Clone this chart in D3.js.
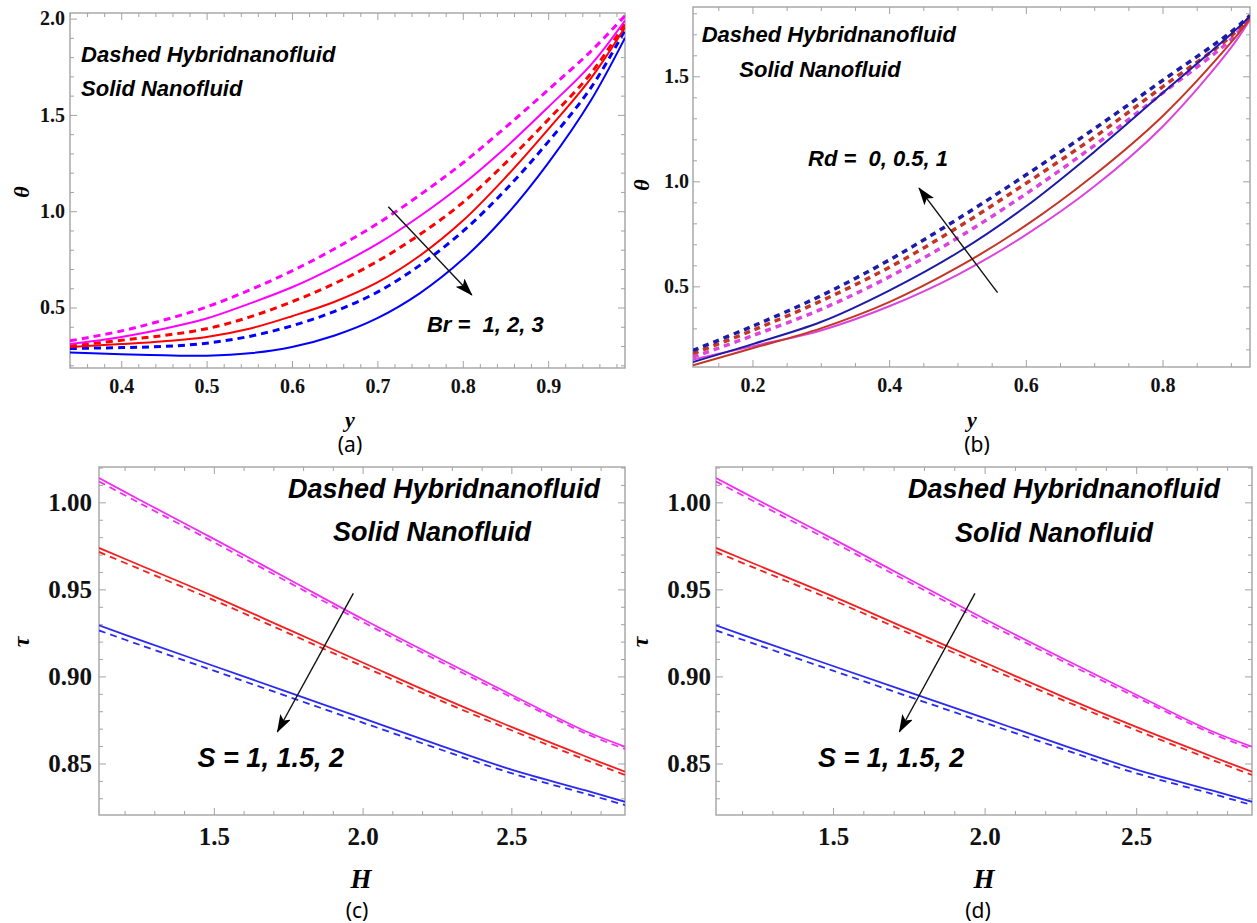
<!DOCTYPE html>
<html>
<head>
<meta charset="utf-8">
<script src="https://cdn.jsdelivr.net/npm/d3@7"></script>
<style>
  body { margin: 0; background: #fff; }
  .note { font-family: "Liberation Sans", Arial, sans-serif; font-weight: bold; font-style: italic; white-space: pre; }
  .axis-title { font-family: "Liberation Serif", "Times New Roman", serif; font-weight: bold; font-style: italic; }
  .panel-tag { font-family: "Noto Sans", "Liberation Sans", sans-serif; }
</style>
</head>
<body>
<svg width="1257" height="923"></svg>
<script>
const svg = d3.select('svg');

// (a) theta against y, Br = 1, 2, 3
const aY = [0.34, 0.4, 0.45, 0.5, 0.55, 0.6, 0.65, 0.7, 0.75, 0.8, 0.85, 0.9, 0.95, 0.99];
const aMagentaDashed = [0.327, 0.378, 0.435, 0.503, 0.59, 0.69, 0.805, 0.935, 1.085, 1.25, 1.435, 1.63, 1.83, 2.015];
const aMagentaSolid  = [0.31, 0.347, 0.39, 0.443, 0.52, 0.605, 0.71, 0.83, 0.975, 1.14, 1.33, 1.54, 1.76, 1.99];
const aRedDashed     = [0.30, 0.33, 0.355, 0.39, 0.45, 0.53, 0.625, 0.74, 0.88, 1.045, 1.25, 1.475, 1.715, 1.975];
const aRedSolid      = [0.295, 0.31, 0.325, 0.347, 0.39, 0.455, 0.53, 0.63, 0.77, 0.95, 1.175, 1.425, 1.69, 1.955];
const aBlueDashed    = [0.287, 0.292, 0.298, 0.315, 0.35, 0.405, 0.48, 0.58, 0.72, 0.895, 1.11, 1.36, 1.64, 1.94];
const aBlueSolid     = [0.266, 0.258, 0.252, 0.25, 0.262, 0.295, 0.355, 0.445, 0.575, 0.75, 0.975, 1.25, 1.575, 1.90];
const aXTicks = [0.4, 0.5, 0.6, 0.7, 0.8, 0.9];
const aYTicks = [0.5, 1.0, 1.5, 2.0];

// (b) theta against y, Rd = 0, 0.5, 1
const bY = [0.113, 0.2, 0.3, 0.4, 0.5, 0.6, 0.7, 0.8, 0.9, 0.928];
const bBlueDashed    = [0.195, 0.31, 0.455, 0.625, 0.82, 1.03, 1.25, 1.48, 1.71, 1.79];
const bRedDashed     = [0.18, 0.29, 0.43, 0.59, 0.78, 0.99, 1.21, 1.45, 1.69, 1.785];
const bMagentaDashed = [0.163, 0.265, 0.39, 0.545, 0.73, 0.94, 1.17, 1.42, 1.675, 1.78];
const bBlueSolid     = [0.14, 0.225, 0.33, 0.48, 0.66, 0.88, 1.14, 1.42, 1.70, 1.785];
const bRedSolid      = [0.124, 0.205, 0.30, 0.425, 0.59, 0.79, 1.03, 1.31, 1.66, 1.775];
const bMagentaSolid  = [0.151, 0.215, 0.29, 0.405, 0.555, 0.745, 0.975, 1.26, 1.635, 1.77];
const bXTicks = [0.2, 0.4, 0.6, 0.8];
const bYTicks = [0.5, 1.0, 1.5];

// (c) and (d) tau against H, S = 1, 1.5, 2
const cH = [1.114, 1.25, 1.5, 1.75, 2.0, 2.25, 2.5, 2.75, 2.882];
const cMagentaSolid  = [1.014, 1.0015, 0.979, 0.956, 0.933, 0.911, 0.8895, 0.8685, 0.8597];
const cMagentaDashed = [1.012, 0.9996, 0.9771, 0.9542, 0.9313, 0.9094, 0.8881, 0.8672, 0.8583];
const cRedSolid      = [0.9738, 0.964, 0.946, 0.927, 0.908, 0.889, 0.871, 0.854, 0.8453];
const cRedDashed     = [0.9715, 0.9617, 0.9438, 0.9249, 0.9059, 0.8870, 0.8691, 0.8521, 0.8434];
const cBlueSolid     = [0.9293, 0.921, 0.906, 0.891, 0.876, 0.861, 0.8465, 0.8345, 0.828];
const cBlueDashed    = [0.9264, 0.9182, 0.9033, 0.8884, 0.8735, 0.8587, 0.8444, 0.8326, 0.8261];
const cXTicks = [1.5, 2.0, 2.5];
const cYTicks = [0.85, 0.90, 0.95, 1.00];

const frameColor = '#a3a3a3';

const fullColors = { magenta: '#ff00ff', red: '#ff0000', blue: '#0000ff' };
const darkColors = { magenta: '#dd44dd', red: '#c43526', blue: '#1c1ca8' };
const softColors = { magenta: '#f030f0', red: '#f22020', blue: '#2a2af0' };

const tauSeries = colors => [
  { v: cMagentaDashed, c: colors.magenta, dashed: true },
  { v: cRedDashed, c: colors.red, dashed: true },
  { v: cBlueDashed, c: colors.blue, dashed: true },
  { v: cMagentaSolid, c: colors.magenta },
  { v: cRedSolid, c: colors.red },
  { v: cBlueSolid, c: colors.blue }
];

const panels = [
  {
    id: 'a', left: 70, right: 625, top: 13, bottom: 368,
    xDomain: [0.34, 0.99], yDomain: [0.186, 2.029], xs: aY,
    xTicks: aXTicks, xMinor: 0.02, yTicks: aYTicks, yMinor: 0.1,
    xFmt: d3.format('.1f'), yFmt: d3.format('.1f'),
    tickFont: 20, xPad: 11, yPad: 5,
    solidW: 2, dashW: 3, dashArray: '7,5',
    series: [
      { v: aMagentaDashed, c: fullColors.magenta, dashed: true },
      { v: aRedDashed, c: fullColors.red, dashed: true },
      { v: aBlueDashed, c: fullColors.blue, dashed: true },
      { v: aMagentaSolid, c: fullColors.magenta },
      { v: aRedSolid, c: fullColors.red },
      { v: aBlueSolid, c: fullColors.blue }
    ],
    noteFont: 22,
    notes: [
      { t: 'Dashed Hybridnanofluid', x: 0.353, y: 1.773 },
      { t: 'Solid Nanofluid', x: 0.353, y: 1.60 },
      { t: 'Br =  1, 2, 3', x: 0.758, y: 0.374 }
    ],
    arrow: { x1: 0.7128, y1: 1.0235, x2: 0.8106, y2: 0.565 },
    xTitle: { t: 'y', x: 350, y: 427, size: 22 },
    yTitle: { t: 'θ', x: 29, y: 192, size: 22 },
    tag: { t: '(a)', x: 350, y: 452 }
  },
  {
    id: 'b', left: 693, right: 1250, top: 7, bottom: 367,
    xDomain: [0.113, 0.928], yDomain: [0.116, 1.83], xs: bY,
    xTicks: bXTicks, xMinor: 0.05, yTicks: bYTicks, yMinor: 0.1,
    xFmt: d3.format('.1f'), yFmt: d3.format('.1f'),
    tickFont: 20, xPad: 11, yPad: 4,
    solidW: 2, dashW: 3.5, dashArray: '6,5',
    series: [
      { v: bMagentaDashed, c: darkColors.magenta, dashed: true },
      { v: bRedDashed, c: darkColors.red, dashed: true },
      { v: bBlueDashed, c: darkColors.blue, dashed: true },
      { v: bMagentaSolid, c: darkColors.magenta },
      { v: bRedSolid, c: darkColors.red },
      { v: bBlueSolid, c: darkColors.blue }
    ],
    noteFont: 22,
    notes: [
      { t: 'Dashed Hybridnanofluid', x: 0.1257, y: 1.665 },
      { t: 'Solid Nanofluid', x: 0.1808, y: 1.498 },
      { t: 'Rd =  0, 0.5, 1', x: 0.2813, y: 1.0746 }
    ],
    arrow: { x1: 0.5586, y1: 0.4698, x2: 0.4437, y2: 0.968 },
    xTitle: { t: 'y', x: 972, y: 427, size: 22 },
    yTitle: { t: 'θ', x: 649, y: 185, size: 22 },
    tag: { t: '(b)', x: 977, y: 452 }
  },
  {
    id: 'c', left: 99, right: 625, top: 467, bottom: 815,
    xDomain: [1.114, 2.882], yDomain: [0.8204, 1.0203], xs: cH,
    xTicks: cXTicks, xMinor: 0.1, yTicks: cYTicks, yMinor: 0.01,
    xFmt: d3.format('.1f'), yFmt: d3.format('.2f'),
    tickFont: 25, xPad: 12, yPad: 7,
    solidW: 1.8, dashW: 1.8, dashArray: '7,5',
    series: tauSeries(softColors),
    noteFont: 27,
    notes: [
      { t: 'Dashed Hybridnanofluid', x: 1.749, y: 1.0023 },
      { t: 'Solid Nanofluid', x: 1.9006, y: 0.9778 },
      { t: 'S = 1, 1.5, 2', x: 1.4454, y: 0.8478 }
    ],
    arrow: { x1: 1.9688, y1: 0.9477, x2: 1.7137, y2: 0.8682 },
    xTitle: { t: 'H', x: 361, y: 888, size: 27 },
    yTitle: { t: 'τ', x: 29, y: 642, size: 24 },
    tag: { t: '(c)', x: 357, y: 918 }
  },
  {
    id: 'd', left: 716, right: 1252, top: 467, bottom: 815,
    xDomain: [1.114, 2.882], yDomain: [0.8204, 1.0203], xs: cH,
    xTicks: cXTicks, xMinor: 0.1, yTicks: cYTicks, yMinor: 0.01,
    xFmt: d3.format('.1f'), yFmt: d3.format('.2f'),
    tickFont: 25, xPad: 12, yPad: 5,
    solidW: 1.8, dashW: 1.8, dashArray: '7,5',
    series: tauSeries(softColors),
    noteFont: 27,
    notes: [
      { t: 'Dashed Hybridnanofluid', x: 1.7472, y: 1.0023 },
      { t: 'Solid Nanofluid', x: 1.9023, y: 0.9774 },
      { t: 'S = 1, 1.5, 2', x: 1.4504, y: 0.8478 }
    ],
    arrow: { x1: 1.9682, y1: 0.9477, x2: 1.7189, y2: 0.8682 },
    xTitle: { t: 'H', x: 984, y: 888, size: 27 },
    yTitle: { t: 'τ', x: 648, y: 642, size: 24 },
    tag: { t: '(d)', x: 978, y: 918 }
  }
];

// arrow head, notched like Mathematica's
const defs = svg.append('defs');
defs.append('marker')
    .attr('id', 'head')
    .attr('viewBox', '0 0 18 12')
    .attr('refX', 17)
    .attr('refY', 6)
    .attr('markerUnits', 'userSpaceOnUse')
    .attr('markerWidth', 18)
    .attr('markerHeight', 12)
    .attr('orient', 'auto')
  .append('path')
    .attr('d', 'M0,0 L18,6 L0,12 L4,6 Z')
    .attr('fill', '#000');

// minor tick values between the labelled ones
const minorValues = (domain, step, majors) => {
  const out = [];
  for (let k = Math.ceil(domain[0] / step - 1e-6); k * step <= domain[1] + 1e-9; k++) {
    const v = +(k * step).toFixed(6);
    if (!majors.some(m => Math.abs(m - v) < 1e-6)) out.push(v);
  }
  return out;
};

const addAxis = (g, axisFn, scale, values, size, transform, opts) => {
  const ax = g.append('g')
    .attr('transform', transform)
    .call(axisFn(scale)
      .tickValues(values)
      .tickSize(-size)
      .tickPadding(opts.pad || 3)
      .tickFormat(opts.fmt || (() => '')));
  ax.select('.domain').remove();
  ax.selectAll('.tick line').attr('stroke', frameColor).attr('stroke-width', 1);
  ax.attr('font-family', '"Liberation Serif", "Times New Roman", serif')
    .attr('font-weight', 'bold')
    .attr('font-size', opts.font || 10);
  ax.selectAll('.tick text').attr('fill', '#111');
};

const drawPanel = p => {
  const x = d3.scaleLinear().domain(p.xDomain).range([p.left, p.right]);
  const y = d3.scaleLinear().domain(p.yDomain).range([p.bottom, p.top]);
  const g = svg.append('g').attr('class', 'panel-' + p.id);

  defs.append('clipPath').attr('id', 'clip-' + p.id)
    .append('rect')
      .attr('x', p.left).attr('y', p.top)
      .attr('width', p.right - p.left).attr('height', p.bottom - p.top);

  // frame ticks, inward on all four sides
  const xMinor = minorValues(p.xDomain, p.xMinor, p.xTicks);
  const yMinor = minorValues(p.yDomain, p.yMinor, p.yTicks);
  addAxis(g, d3.axisBottom, x, p.xTicks, 7, `translate(0,${p.bottom})`,
    { fmt: p.xFmt, pad: p.xPad, font: p.tickFont });
  addAxis(g, d3.axisBottom, x, xMinor, 4, `translate(0,${p.bottom})`, {});
  addAxis(g, d3.axisTop, x, p.xTicks, 7, `translate(0,${p.top})`, {});
  addAxis(g, d3.axisTop, x, xMinor, 4, `translate(0,${p.top})`, {});
  addAxis(g, d3.axisLeft, y, p.yTicks, 7, `translate(${p.left},0)`,
    { fmt: p.yFmt, pad: p.yPad, font: p.tickFont });
  addAxis(g, d3.axisLeft, y, yMinor, 4, `translate(${p.left},0)`, {});
  addAxis(g, d3.axisRight, y, p.yTicks, 7, `translate(${p.right},0)`, {});
  addAxis(g, d3.axisRight, y, yMinor, 4, `translate(${p.right},0)`, {});

  g.append('rect')
    .attr('x', p.left).attr('y', p.top)
    .attr('width', p.right - p.left).attr('height', p.bottom - p.top)
    .attr('fill', 'none')
    .attr('stroke', frameColor)
    .attr('stroke-width', 1.4);

  const line = d3.line()
    .x((d, i) => x(p.xs[i]))
    .y(d => y(d))
    .curve(d3.curveCatmullRom.alpha(0.5));

  g.append('g')
    .attr('clip-path', `url(#clip-${p.id})`)
    .selectAll('path')
    .data(p.series)
    .enter().append('path')
      .attr('d', d => line(d.v))
      .attr('fill', 'none')
      .attr('stroke', d => d.c)
      .attr('stroke-width', d => d.dashed ? p.dashW : p.solidW)
      .attr('stroke-dasharray', d => d.dashed ? p.dashArray : null);

  g.selectAll('.note')
    .data(p.notes)
    .enter().append('text')
      .attr('class', 'note')
      .attr('x', d => x(d.x))
      .attr('y', d => y(d.y))
      .attr('font-size', p.noteFont)
      .text(d => d.t);

  g.append('line')
    .attr('x1', x(p.arrow.x1)).attr('y1', y(p.arrow.y1))
    .attr('x2', x(p.arrow.x2)).attr('y2', y(p.arrow.y2))
    .attr('stroke', '#111')
    .attr('stroke-width', 1.4)
    .attr('marker-end', 'url(#head)');

  g.append('text')
    .attr('class', 'axis-title')
    .attr('x', p.xTitle.x).attr('y', p.xTitle.y)
    .attr('text-anchor', 'middle')
    .attr('font-size', p.xTitle.size)
    .text(p.xTitle.t);

  g.append('text')
    .attr('class', 'axis-title')
    .attr('transform', `translate(${p.yTitle.x},${p.yTitle.y}) rotate(-90)`)
    .attr('text-anchor', 'middle')
    .attr('font-size', p.yTitle.size)
    .text(p.yTitle.t);

  g.append('text')
    .attr('class', 'panel-tag')
    .attr('x', p.tag.x).attr('y', p.tag.y)
    .attr('text-anchor', 'middle')
    .attr('font-size', 21)
    .text(p.tag.t);
};

panels.forEach(drawPanel);
</script>
</body>
</html>
